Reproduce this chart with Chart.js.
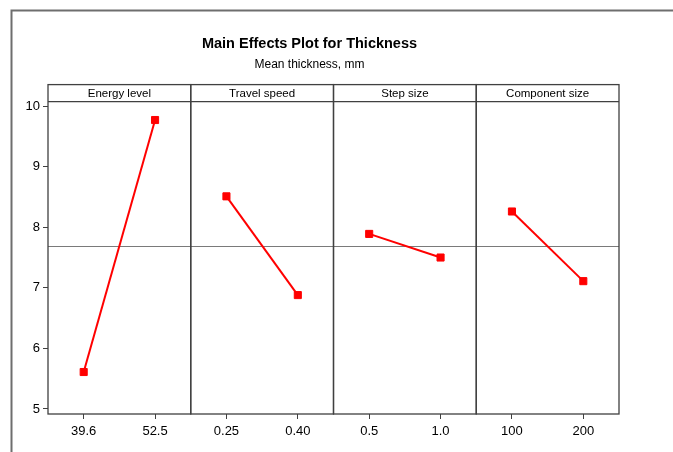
<!DOCTYPE html>
<html>
<head>
<meta charset="utf-8">
<script src="https://cdn.jsdelivr.net/npm/chart.js@4.4.0/dist/chart.umd.min.js"></script>
<style>
html,body{margin:0;padding:0;background:#fff;}
#wrap{width:673px;height:452px;position:relative;}
</style>
</head>
<body>
<div id="wrap"><canvas id="c" width="673" height="452"></canvas></div>
<script>
// ---- data ----
const chartTitle = 'Main Effects Plot for Thickness';
const chartSubtitle = 'Mean thickness, mm';
const factorNames = ['Energy level', 'Travel speed', 'Step size', 'Component size'];
const energyLevels = ['39.6', '52.5'];
const travelSpeeds = ['0.25', '0.40'];
const stepSizes = ['0.5', '1.0'];
const componentSizes = ['100', '200'];
const energyMeans = [5.61, 9.77];
const travelMeans = [8.51, 6.88];
const stepMeans = [7.89, 7.50];
const componentMeans = [8.26, 7.11];
const yTicks = [5, 6, 7, 8, 9, 10];
const grandMean = 7.69;

const levelSets = [energyLevels, travelSpeeds, stepSizes, componentSizes];
const meanSets = [energyMeans, travelMeans, stepMeans, componentMeans];
const panelIds = ['x0', 'x1', 'x2', 'x3'];

const FONT = '"Liberation Sans", Arial, sans-serif';
const DARK = '#404040';

const framePlugin = {
  id: 'frame',
  beforeDraw(chart) {
    const ctx = chart.ctx;
    ctx.save();
    ctx.fillStyle = '#fff';
    ctx.fillRect(0, 0, chart.width, chart.height);
    ctx.strokeStyle = '#6e6e6e';
    ctx.lineWidth = 2;
    ctx.beginPath();
    ctx.moveTo(11.5, chart.height + 5);
    ctx.lineTo(11.5, 10.5);
    ctx.lineTo(chart.width + 5, 10.5);
    ctx.stroke();
    ctx.restore();
  },
  beforeDatasetsDraw(chart) {
    const {ctx, chartArea: a, scales} = chart;
    ctx.save();
    // reference (grand mean) line
    const ym = Math.round(scales.y.getPixelForValue(grandMean)) + 0.5;
    ctx.strokeStyle = '#7a7a7a';
    ctx.lineWidth = 1;
    ctx.beginPath();
    ctx.moveTo(a.left, ym);
    ctx.lineTo(a.right, ym);
    ctx.stroke();
    // panel frames + headers
    const headerTop = a.top - 17;
    ctx.strokeStyle = DARK;
    ctx.lineWidth = 1.3;
    panelIds.forEach((id, i) => {
      const s = scales[id];
      ctx.strokeRect(s.left, headerTop, s.right - s.left, a.bottom - headerTop);
      ctx.beginPath();
      ctx.moveTo(s.left, a.top);
      ctx.lineTo(s.right, a.top);
      ctx.stroke();
      ctx.fillStyle = '#000';
      ctx.font = '11.5px ' + FONT;
      ctx.textAlign = 'center';
      ctx.textBaseline = 'middle';
      ctx.fillText(factorNames[i], (s.left + s.right) / 2, (headerTop + a.top) / 2 + 0.5);
    });
    ctx.restore();
  }
};

const scales = {
  y: {
    type: 'linear',
    position: 'left',
    min: 4.917,
    max: 10.074,
    afterBuildTicks(scale) { scale.ticks = yTicks.map(v => ({value: v})); },
    afterFit(scale) { scale.width = 48; },
    ticks: { color: '#000', font: {family: FONT, size: 13}, padding: 3 },
    grid: { drawOnChartArea: false, drawTicks: true, tickLength: 5, color: DARK, lineWidth: 1 },
    border: { display: false }
  }
};
panelIds.forEach((id, i) => {
  scales[id] = {
    type: 'category',
    position: 'bottom',
    stack: 'panels',
    stackWeight: 1,
    labels: levelSets[i],
    offset: true,
    afterFit(scale) { scale.height = 38; },
    ticks: { color: '#000', font: {family: FONT, size: 13}, padding: 5, autoSkip: false, maxRotation: 0 },
    grid: { offset: false, drawOnChartArea: false, drawTicks: true, tickLength: 5, color: DARK, lineWidth: 1 },
    border: { display: false }
  };
});

new Chart(document.getElementById('c'), {
  type: 'line',
  data: {
    datasets: meanSets.map((m, i) => ({
      label: factorNames[i],
      data: m,
      xAxisID: panelIds[i],
      yAxisID: 'y',
      borderColor: '#ff0000',
      backgroundColor: '#ff0000',
      borderWidth: 2,
      pointStyle: 'rect',
      pointRadius: 5,
      pointBorderWidth: 1,
      pointBackgroundColor: '#ff0000',
      pointBorderColor: '#ff0000',
      tension: 0
    }))
  },
  options: {
    responsive: false,
    animation: false,
    devicePixelRatio: 1,
    layout: { padding: { top: 0, left: 0, right: 54, bottom: 0 } },
    plugins: {
      legend: { display: false },
      tooltip: { enabled: false },
      title: {
        display: true,
        text: chartTitle,
        color: '#000',
        font: { family: FONT, size: 14.5, weight: 'bold' },
        padding: { top: 35, bottom: 0 }
      },
      subtitle: {
        display: true,
        text: chartSubtitle,
        color: '#000',
        font: { family: FONT, size: 12 },
        padding: { top: 5.4, bottom: 29.4 }
      }
    },
    scales
  },
  plugins: [framePlugin]
});
</script>
</body>
</html>
